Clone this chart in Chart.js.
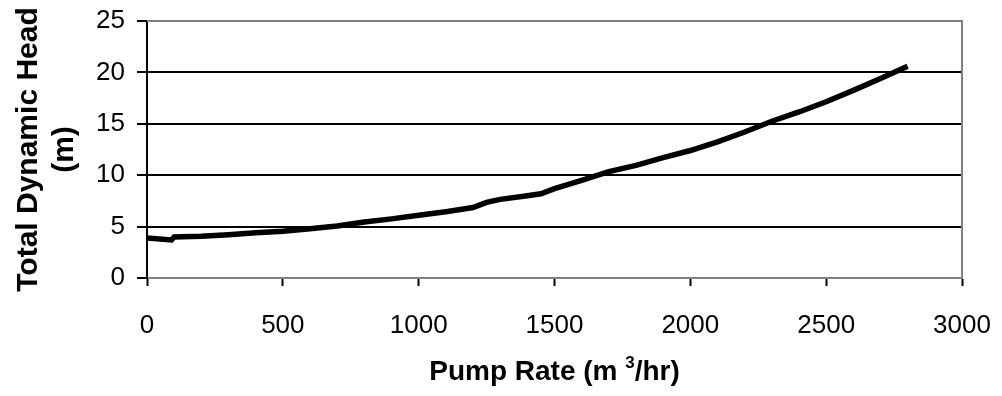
<!DOCTYPE html>
<html>
<head>
<meta charset="utf-8">
<script src="https://cdn.jsdelivr.net/npm/chart.js@4"></script>
<style>
  html, body { margin: 0; padding: 0; background: #fff; }
  #wrap { width: 1002px; height: 396px; position: relative; }
</style>
</head>
<body>
<div id="wrap"><canvas id="chart"></canvas></div>
<script>
// pump curve
const pumpRate = [0, 90, 100, 200, 300, 400, 500, 600, 700, 800, 900, 1000, 1100, 1200, 1250,
    1300, 1400, 1450, 1500, 1600, 1700, 1800, 1900, 2000, 2100, 2200, 2300, 2400, 2500, 2600, 2700, 2800];
const totalHead = [3.9, 3.7, 4.0, 4.05, 4.2, 4.4, 4.55, 4.8, 5.05, 5.45, 5.75, 6.1, 6.45, 6.85, 7.35,
    7.65, 8.0, 8.2, 8.7, 9.5, 10.35, 10.95, 11.7, 12.4, 13.25, 14.2, 15.25, 16.15, 17.15, 18.25, 19.4, 20.6];

const xTicks = [0, 500, 1000, 1500, 2000, 2500, 3000];
const yTicks = [0, 5, 10, 15, 20, 25];

const xTitle = ['Pump Rate (m ', '3', '/hr)'];   // middle part is a superscript
const yTitle = ['Total Dynamic Head', '(m)'];

const FONT = '"Liberation Sans", Arial, sans-serif';
const GRAY = '#808080';

const points = pumpRate.map((x, i) => ({ x: x, y: totalHead[i] }));

// gray frame on top and right of the plot area
const framePlugin = {
    id: 'frame',
    beforeDatasetsDraw(chart) {
        const { ctx, chartArea: a } = chart;
        ctx.save();
        ctx.strokeStyle = GRAY;
        ctx.lineWidth = 2;
        ctx.beginPath();
        ctx.moveTo(a.left, a.top);
        ctx.lineTo(a.right, a.top);
        ctx.lineTo(a.right, a.bottom);
        ctx.stroke();
        ctx.restore();
    }
};

// x title drawn by hand so the "3" can sit raised
const xTitlePlugin = {
    id: 'xTitle',
    afterDraw(chart) {
        const { ctx, chartArea: a } = chart;
        const big = 'bold 28px ' + FONT;
        const small = 'bold 17px ' + FONT;
        ctx.save();
        ctx.fillStyle = '#000';
        ctx.textBaseline = 'alphabetic';
        ctx.textAlign = 'left';
        ctx.font = big;
        const w1 = ctx.measureText(xTitle[0]).width;
        const w3 = ctx.measureText(xTitle[2]).width;
        ctx.font = small;
        const w2 = ctx.measureText(xTitle[1]).width;
        const base = 380;
        let x = (a.left + a.right) / 2 - (w1 + w2 + w3) / 2;
        ctx.font = big;
        ctx.fillText(xTitle[0], x, base);
        x += w1;
        ctx.font = small;
        ctx.fillText(xTitle[1], x, base - 12);
        x += w2;
        ctx.font = big;
        ctx.fillText(xTitle[2], x, base);
        ctx.restore();
    }
};

new Chart(document.getElementById('chart').getContext('2d'), {
    type: 'scatter',
    data: {
        datasets: [{
            data: points,
            showLine: true,
            borderColor: '#000',
            backgroundColor: '#000',
            borderWidth: 5.5,
            pointRadius: 0,
            tension: 0
        }]
    },
    options: {
        responsive: true,
        maintainAspectRatio: false,
        animation: false,
        layout: { padding: { left: 0, right: 40, top: 21, bottom: 0 } },
        plugins: {
            legend: { display: false },
            tooltip: { enabled: false }
        },
        scales: {
            x: {
                type: 'linear',
                min: 0,
                max: 3000,
                afterBuildTicks: (scale) => { scale.ticks = xTicks.map(v => ({ value: v })); },
                afterFit: (scale) => {
                    scale.height = 118;
                    scale.paddingLeft = 0;
                    scale.paddingRight = 0;
                },
                grid: {
                    drawOnChartArea: false,
                    drawTicks: true,
                    tickLength: 8,
                    tickColor: '#000',
                    tickWidth: 2
                },
                border: { color: GRAY, width: 2 },
                ticks: {
                    color: '#000',
                    padding: 24,
                    maxRotation: 0,
                    callback: (v) => String(v),
                    font: { family: FONT, size: 26 }
                },
                title: { display: false }
            },
            y: {
                min: 0,
                max: 25,
                afterBuildTicks: (scale) => { scale.ticks = yTicks.map(v => ({ value: v })); },
                afterFit: (scale) => {
                    scale.width = 147;
                    scale.paddingTop = 0;
                    scale.paddingBottom = 0;
                },
                grid: {
                    color: (c) => (c.tick && (c.tick.value === 0 || c.tick.value === 25)) ? GRAY : '#000',
                    lineWidth: 2,
                    tickLength: 10,
                    tickColor: '#000',
                    tickWidth: 2
                },
                border: { color: '#000', width: 2 },
                ticks: {
                    color: '#000',
                    padding: 12,
                    callback: (v) => String(v),
                    font: { family: FONT, size: 26 }
                },
                title: {
                    display: true,
                    text: yTitle,
                    color: '#000',
                    padding: { top: 11, bottom: 0 },
                    font: { family: FONT, size: 30, weight: 'bold', lineHeight: 1.2 }
                }
            }
        }
    },
    plugins: [framePlugin, xTitlePlugin]
});
</script>
</body>
</html>
